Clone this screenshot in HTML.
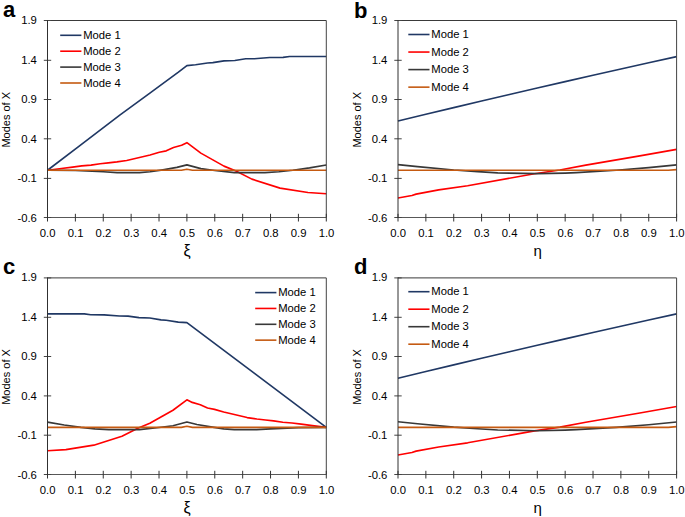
<!DOCTYPE html>
<html><head><meta charset="utf-8"><style>
html,body{margin:0;padding:0;background:#fff;}
svg{display:block;}
.t{font-family:"Liberation Sans", sans-serif;font-size:11px;fill:#000;}
.tk{font-family:"Liberation Sans", sans-serif;font-size:11.3px;fill:#000;}
.lg{font-family:"Liberation Sans", sans-serif;font-size:11.25px;fill:#000;}
.xl{font-family:"Liberation Sans", sans-serif;fill:#000;}
.lt{font-family:"Liberation Sans", sans-serif;font-size:22px;font-weight:bold;fill:#000;}
</style></head><body>
<svg width="685" height="517" viewBox="0 0 685 517">
<rect width="685" height="517" fill="#fff"/>
<polyline points="47.50,170.22 79.84,145.63 120.10,114.82 149.54,93.39 178.40,72.19 186.90,65.57 195.54,64.79 207.53,62.97 212.83,62.66 223.98,60.85 234.85,60.45 245.73,58.80 254.37,58.72 269.70,57.54 283.09,57.38 289.50,56.51 326.30,56.51" fill="none" stroke="#203864" stroke-width="1.65" stroke-linejoin="round"/>
<polyline points="47.50,170.22 61.44,168.49 72.59,167.07 81.79,165.89 90.99,165.10 100.19,163.76 108.28,162.89 116.92,161.87 126.68,160.45 138.39,157.69 150.10,154.93 159.30,152.25 166.27,150.84 173.52,147.53 181.60,145.24 186.90,142.64 200.84,153.12 223.98,166.12 235.97,171.09 251.86,179.12 280.02,188.11 307.90,192.52 326.30,193.70" fill="none" stroke="#ff0000" stroke-width="1.65" stroke-linejoin="round"/>
<polyline points="47.50,170.22 75.38,170.54 103.26,171.80 117.20,172.58 139.50,172.58 150.10,171.80 162.92,169.83 176.86,167.38 186.90,164.86 200.84,168.64 214.78,170.46 234.30,172.58 264.96,172.58 278.90,171.80 292.84,170.22 309.57,167.86 326.30,165.02" fill="none" stroke="#383838" stroke-width="1.65" stroke-linejoin="round"/>
<polyline points="47.50,170.22 181.32,170.22 186.90,169.20 192.48,170.22 326.30,170.22" fill="none" stroke="#c55a11" stroke-width="1.65" stroke-linejoin="round"/>
<path d="M47.5,20.5H326.3" fill="none" stroke="#3a3a3a" stroke-width="1"/>
<path d="M326.3,20.5V217.5" fill="none" stroke="#444" stroke-width="1"/>
<path d="M47.5,217.5H326.3" fill="none" stroke="#585858" stroke-width="1"/>
<path d="M43.8,20.50H51.2" stroke="#444" stroke-width="1"/>
<text x="36.9" y="24.35" text-anchor="end" class="tk">1.9</text>
<path d="M43.8,60.30H51.2" stroke="#444" stroke-width="1"/>
<text x="36.9" y="63.86" text-anchor="end" class="tk">1.4</text>
<path d="M43.8,99.50H51.2" stroke="#444" stroke-width="1"/>
<text x="36.9" y="103.37" text-anchor="end" class="tk">0.9</text>
<path d="M43.8,138.80H51.2" stroke="#444" stroke-width="1"/>
<text x="36.9" y="142.88" text-anchor="end" class="tk">0.4</text>
<path d="M43.8,178.40H51.2" stroke="#444" stroke-width="1"/>
<text x="36.9" y="182.39" text-anchor="end" class="tk">-0.1</text>
<path d="M43.8,217.50H51.2" stroke="#444" stroke-width="1"/>
<text x="36.9" y="221.90" text-anchor="end" class="tk">-0.6</text>
<path d="M47.50,213.8V221.5" stroke="#333" stroke-width="1"/>
<text x="47.70" y="237.0" text-anchor="middle" class="tk">0.0</text>
<path d="M75.38,213.8V221.5" stroke="#333" stroke-width="1"/>
<text x="75.58" y="237.0" text-anchor="middle" class="tk">0.1</text>
<path d="M103.26,213.8V221.5" stroke="#333" stroke-width="1"/>
<text x="103.46" y="237.0" text-anchor="middle" class="tk">0.2</text>
<path d="M131.14,213.8V221.5" stroke="#333" stroke-width="1"/>
<text x="131.34" y="237.0" text-anchor="middle" class="tk">0.3</text>
<path d="M159.02,213.8V221.5" stroke="#333" stroke-width="1"/>
<text x="159.22" y="237.0" text-anchor="middle" class="tk">0.4</text>
<path d="M186.90,213.8V221.5" stroke="#333" stroke-width="1"/>
<text x="187.10" y="237.0" text-anchor="middle" class="tk">0.5</text>
<path d="M214.78,213.8V221.5" stroke="#333" stroke-width="1"/>
<text x="214.98" y="237.0" text-anchor="middle" class="tk">0.6</text>
<path d="M242.66,213.8V221.5" stroke="#333" stroke-width="1"/>
<text x="242.86" y="237.0" text-anchor="middle" class="tk">0.7</text>
<path d="M270.54,213.8V221.5" stroke="#333" stroke-width="1"/>
<text x="270.74" y="237.0" text-anchor="middle" class="tk">0.8</text>
<path d="M298.42,213.8V221.5" stroke="#333" stroke-width="1"/>
<text x="298.62" y="237.0" text-anchor="middle" class="tk">0.9</text>
<path d="M326.30,213.8V221.5" stroke="#333" stroke-width="1"/>
<text x="326.50" y="237.0" text-anchor="middle" class="tk">1.0</text>
<path d="M47.5,20.0V218.0" fill="none" stroke="#303030" stroke-width="1"/>
<text transform="translate(10.3,119.80) rotate(-90)" text-anchor="middle" class="t">Modes of X</text>
<text x="187.20" y="255.8" text-anchor="middle" class="xl" style="font-size:16px">ξ</text>
<text x="3" y="17.2" class="lt">a</text>
<path d="M60.2,35.30H81.4" stroke="#203864" stroke-width="1.6"/>
<text x="83.2" y="38.90" class="lg">Mode 1</text>
<path d="M60.2,51.20H81.4" stroke="#ff0000" stroke-width="1.6"/>
<text x="83.2" y="54.80" class="lg">Mode 2</text>
<path d="M60.2,67.10H81.4" stroke="#383838" stroke-width="1.6"/>
<text x="83.2" y="70.70" class="lg">Mode 3</text>
<path d="M60.2,83.00H81.4" stroke="#c55a11" stroke-width="1.6"/>
<text x="83.2" y="86.60" class="lg">Mode 4</text>
<polyline points="398.00,121.05 425.86,114.31 453.72,107.63 481.58,101.02 509.44,94.47 537.30,87.99 565.16,81.58 593.02,75.23 620.88,68.95 648.74,62.74 676.60,56.59" fill="none" stroke="#203864" stroke-width="1.65" stroke-linejoin="round"/>
<polyline points="398.00,197.96 411.93,195.44 416.11,194.10 438.68,189.92 467.65,185.74 534.51,173.77 559.87,169.98 585.78,165.18 639.82,155.88 676.60,149.42" fill="none" stroke="#ff0000" stroke-width="1.65" stroke-linejoin="round"/>
<polyline points="398.00,164.63 417.50,166.60 453.72,169.98 477.68,171.64 497.74,172.90 537.30,173.69 565.16,173.06 576.30,172.58 616.14,170.22 648.74,167.62 676.60,164.86" fill="none" stroke="#383838" stroke-width="1.65" stroke-linejoin="round"/>
<polyline points="398.00,170.22 668.24,170.22 676.60,169.59" fill="none" stroke="#c55a11" stroke-width="1.65" stroke-linejoin="round"/>
<path d="M398.0,20.5H676.6" fill="none" stroke="#3a3a3a" stroke-width="1"/>
<path d="M676.6,20.5V217.5" fill="none" stroke="#444" stroke-width="1"/>
<path d="M398.0,217.5H676.6" fill="none" stroke="#585858" stroke-width="1"/>
<path d="M394.3,20.50H401.7" stroke="#444" stroke-width="1"/>
<text x="387.4" y="24.35" text-anchor="end" class="tk">1.9</text>
<path d="M394.3,60.30H401.7" stroke="#444" stroke-width="1"/>
<text x="387.4" y="63.86" text-anchor="end" class="tk">1.4</text>
<path d="M394.3,99.50H401.7" stroke="#444" stroke-width="1"/>
<text x="387.4" y="103.37" text-anchor="end" class="tk">0.9</text>
<path d="M394.3,138.80H401.7" stroke="#444" stroke-width="1"/>
<text x="387.4" y="142.88" text-anchor="end" class="tk">0.4</text>
<path d="M394.3,178.40H401.7" stroke="#444" stroke-width="1"/>
<text x="387.4" y="182.39" text-anchor="end" class="tk">-0.1</text>
<path d="M394.3,217.50H401.7" stroke="#444" stroke-width="1"/>
<text x="387.4" y="221.90" text-anchor="end" class="tk">-0.6</text>
<path d="M398.00,213.8V221.5" stroke="#333" stroke-width="1"/>
<text x="398.20" y="237.0" text-anchor="middle" class="tk">0.0</text>
<path d="M425.86,213.8V221.5" stroke="#333" stroke-width="1"/>
<text x="426.06" y="237.0" text-anchor="middle" class="tk">0.1</text>
<path d="M453.72,213.8V221.5" stroke="#333" stroke-width="1"/>
<text x="453.92" y="237.0" text-anchor="middle" class="tk">0.2</text>
<path d="M481.58,213.8V221.5" stroke="#333" stroke-width="1"/>
<text x="481.78" y="237.0" text-anchor="middle" class="tk">0.3</text>
<path d="M509.44,213.8V221.5" stroke="#333" stroke-width="1"/>
<text x="509.64" y="237.0" text-anchor="middle" class="tk">0.4</text>
<path d="M537.30,213.8V221.5" stroke="#333" stroke-width="1"/>
<text x="537.50" y="237.0" text-anchor="middle" class="tk">0.5</text>
<path d="M565.16,213.8V221.5" stroke="#333" stroke-width="1"/>
<text x="565.36" y="237.0" text-anchor="middle" class="tk">0.6</text>
<path d="M593.02,213.8V221.5" stroke="#333" stroke-width="1"/>
<text x="593.22" y="237.0" text-anchor="middle" class="tk">0.7</text>
<path d="M620.88,213.8V221.5" stroke="#333" stroke-width="1"/>
<text x="621.08" y="237.0" text-anchor="middle" class="tk">0.8</text>
<path d="M648.74,213.8V221.5" stroke="#333" stroke-width="1"/>
<text x="648.94" y="237.0" text-anchor="middle" class="tk">0.9</text>
<path d="M676.60,213.8V221.5" stroke="#333" stroke-width="1"/>
<text x="676.80" y="237.0" text-anchor="middle" class="tk">1.0</text>
<path d="M398.0,20.0V218.0" fill="none" stroke="#303030" stroke-width="1"/>
<text transform="translate(360.8,119.80) rotate(-90)" text-anchor="middle" class="t">Modes of X</text>
<text x="537.60" y="255.8" text-anchor="middle" class="xl" style="font-size:15px">η</text>
<text x="354" y="17.6" class="lt">b</text>
<path d="M408.3,34.50H429.5" stroke="#203864" stroke-width="1.6"/>
<text x="431.3" y="38.10" class="lg">Mode 1</text>
<path d="M408.3,52.05H429.5" stroke="#ff0000" stroke-width="1.6"/>
<text x="431.3" y="55.65" class="lg">Mode 2</text>
<path d="M408.3,69.60H429.5" stroke="#383838" stroke-width="1.6"/>
<text x="431.3" y="73.20" class="lg">Mode 3</text>
<path d="M408.3,87.15H429.5" stroke="#c55a11" stroke-width="1.6"/>
<text x="431.3" y="90.75" class="lg">Mode 4</text>
<polyline points="47.50,313.84 84.30,313.84 90.71,314.70 104.10,314.86 119.43,316.04 128.07,316.12 138.95,317.61 149.82,318.01 160.97,319.82 166.27,320.29 178.26,322.10 186.90,322.65 326.30,427.32" fill="none" stroke="#203864" stroke-width="1.65" stroke-linejoin="round"/>
<polyline points="47.50,450.75 65.90,449.57 93.78,445.17 121.94,436.20 137.83,428.18 149.82,423.23 172.96,410.25 186.90,399.79 192.20,402.39 200.28,404.67 207.53,407.97 214.50,409.39 223.70,412.06 235.41,414.81 247.12,417.56 256.88,418.98 265.52,420.00 273.61,420.87 282.81,422.20 292.01,422.99 301.21,424.17 312.36,425.59 326.30,427.32" fill="none" stroke="#ff0000" stroke-width="1.65" stroke-linejoin="round"/>
<polyline points="47.50,422.13 64.23,424.96 80.96,427.32 94.90,428.89 108.84,429.68 139.50,429.68 159.02,427.55 172.96,425.74 186.90,421.97 196.94,424.48 210.88,426.92 223.70,428.89 234.30,429.68 256.60,429.68 270.54,428.89 298.42,427.63 326.30,427.32" fill="none" stroke="#383838" stroke-width="1.65" stroke-linejoin="round"/>
<polyline points="47.50,427.32 181.32,427.32 186.90,426.29 192.48,427.32 326.30,427.32" fill="none" stroke="#c55a11" stroke-width="1.65" stroke-linejoin="round"/>
<path d="M47.5,277.9H326.3" fill="none" stroke="#3a3a3a" stroke-width="1"/>
<path d="M326.3,277.9V474.5" fill="none" stroke="#444" stroke-width="1"/>
<path d="M47.5,474.5H326.3" fill="none" stroke="#585858" stroke-width="1"/>
<path d="M43.8,277.90H51.2" stroke="#444" stroke-width="1"/>
<text x="36.9" y="281.15" text-anchor="end" class="tk">1.9</text>
<path d="M43.8,317.30H51.2" stroke="#444" stroke-width="1"/>
<text x="36.9" y="320.66" text-anchor="end" class="tk">1.4</text>
<path d="M43.8,356.50H51.2" stroke="#444" stroke-width="1"/>
<text x="36.9" y="360.17" text-anchor="end" class="tk">0.9</text>
<path d="M43.8,395.90H51.2" stroke="#444" stroke-width="1"/>
<text x="36.9" y="399.68" text-anchor="end" class="tk">0.4</text>
<path d="M43.8,435.20H51.2" stroke="#444" stroke-width="1"/>
<text x="36.9" y="439.19" text-anchor="end" class="tk">-0.1</text>
<path d="M43.8,474.50H51.2" stroke="#444" stroke-width="1"/>
<text x="36.9" y="478.70" text-anchor="end" class="tk">-0.6</text>
<path d="M47.50,470.8V478.5" stroke="#333" stroke-width="1"/>
<text x="47.70" y="494.0" text-anchor="middle" class="tk">0.0</text>
<path d="M75.38,470.8V478.5" stroke="#333" stroke-width="1"/>
<text x="75.58" y="494.0" text-anchor="middle" class="tk">0.1</text>
<path d="M103.26,470.8V478.5" stroke="#333" stroke-width="1"/>
<text x="103.46" y="494.0" text-anchor="middle" class="tk">0.2</text>
<path d="M131.14,470.8V478.5" stroke="#333" stroke-width="1"/>
<text x="131.34" y="494.0" text-anchor="middle" class="tk">0.3</text>
<path d="M159.02,470.8V478.5" stroke="#333" stroke-width="1"/>
<text x="159.22" y="494.0" text-anchor="middle" class="tk">0.4</text>
<path d="M186.90,470.8V478.5" stroke="#333" stroke-width="1"/>
<text x="187.10" y="494.0" text-anchor="middle" class="tk">0.5</text>
<path d="M214.78,470.8V478.5" stroke="#333" stroke-width="1"/>
<text x="214.98" y="494.0" text-anchor="middle" class="tk">0.6</text>
<path d="M242.66,470.8V478.5" stroke="#333" stroke-width="1"/>
<text x="242.86" y="494.0" text-anchor="middle" class="tk">0.7</text>
<path d="M270.54,470.8V478.5" stroke="#333" stroke-width="1"/>
<text x="270.74" y="494.0" text-anchor="middle" class="tk">0.8</text>
<path d="M298.42,470.8V478.5" stroke="#333" stroke-width="1"/>
<text x="298.62" y="494.0" text-anchor="middle" class="tk">0.9</text>
<path d="M326.30,470.8V478.5" stroke="#333" stroke-width="1"/>
<text x="326.50" y="494.0" text-anchor="middle" class="tk">1.0</text>
<path d="M47.5,277.4V475.0" fill="none" stroke="#303030" stroke-width="1"/>
<text transform="translate(10.3,377.00) rotate(-90)" text-anchor="middle" class="t">Modes of X</text>
<text x="187.20" y="512.8" text-anchor="middle" class="xl" style="font-size:16px">ξ</text>
<text x="3" y="274.2" class="lt">c</text>
<path d="M255.2,292.60H276.4" stroke="#203864" stroke-width="1.6"/>
<text x="278.2" y="296.20" class="lg">Mode 1</text>
<path d="M255.2,308.45H276.4" stroke="#ff0000" stroke-width="1.6"/>
<text x="278.2" y="312.05" class="lg">Mode 2</text>
<path d="M255.2,324.30H276.4" stroke="#383838" stroke-width="1.6"/>
<text x="278.2" y="327.90" class="lg">Mode 3</text>
<path d="M255.2,340.15H276.4" stroke="#c55a11" stroke-width="1.6"/>
<text x="278.2" y="343.75" class="lg">Mode 4</text>
<polyline points="398.00,378.24 425.86,371.51 453.72,364.85 481.58,358.25 509.44,351.72 537.30,345.26 565.16,338.86 593.02,332.52 620.88,326.25 648.74,320.05 676.60,313.92" fill="none" stroke="#203864" stroke-width="1.65" stroke-linejoin="round"/>
<polyline points="398.00,455.00 411.93,452.48 416.11,451.14 438.68,446.98 467.65,442.81 534.51,430.85 559.87,427.08 585.78,422.28 639.82,413.00 676.60,406.56" fill="none" stroke="#ff0000" stroke-width="1.65" stroke-linejoin="round"/>
<polyline points="398.00,421.73 417.50,423.70 453.72,427.08 477.68,428.73 497.74,429.99 537.30,430.78 565.16,430.15 576.30,429.68 616.14,427.32 648.74,424.72 676.60,421.97" fill="none" stroke="#383838" stroke-width="1.65" stroke-linejoin="round"/>
<polyline points="398.00,427.32 668.24,427.32 676.60,426.69" fill="none" stroke="#c55a11" stroke-width="1.65" stroke-linejoin="round"/>
<path d="M398.0,277.9H676.6" fill="none" stroke="#3a3a3a" stroke-width="1"/>
<path d="M676.6,277.9V474.5" fill="none" stroke="#444" stroke-width="1"/>
<path d="M398.0,474.5H676.6" fill="none" stroke="#585858" stroke-width="1"/>
<path d="M394.3,277.90H401.7" stroke="#444" stroke-width="1"/>
<text x="387.4" y="281.15" text-anchor="end" class="tk">1.9</text>
<path d="M394.3,317.30H401.7" stroke="#444" stroke-width="1"/>
<text x="387.4" y="320.66" text-anchor="end" class="tk">1.4</text>
<path d="M394.3,356.50H401.7" stroke="#444" stroke-width="1"/>
<text x="387.4" y="360.17" text-anchor="end" class="tk">0.9</text>
<path d="M394.3,395.90H401.7" stroke="#444" stroke-width="1"/>
<text x="387.4" y="399.68" text-anchor="end" class="tk">0.4</text>
<path d="M394.3,435.20H401.7" stroke="#444" stroke-width="1"/>
<text x="387.4" y="439.19" text-anchor="end" class="tk">-0.1</text>
<path d="M394.3,474.50H401.7" stroke="#444" stroke-width="1"/>
<text x="387.4" y="478.70" text-anchor="end" class="tk">-0.6</text>
<path d="M398.00,470.8V478.5" stroke="#333" stroke-width="1"/>
<text x="398.20" y="494.0" text-anchor="middle" class="tk">0.0</text>
<path d="M425.86,470.8V478.5" stroke="#333" stroke-width="1"/>
<text x="426.06" y="494.0" text-anchor="middle" class="tk">0.1</text>
<path d="M453.72,470.8V478.5" stroke="#333" stroke-width="1"/>
<text x="453.92" y="494.0" text-anchor="middle" class="tk">0.2</text>
<path d="M481.58,470.8V478.5" stroke="#333" stroke-width="1"/>
<text x="481.78" y="494.0" text-anchor="middle" class="tk">0.3</text>
<path d="M509.44,470.8V478.5" stroke="#333" stroke-width="1"/>
<text x="509.64" y="494.0" text-anchor="middle" class="tk">0.4</text>
<path d="M537.30,470.8V478.5" stroke="#333" stroke-width="1"/>
<text x="537.50" y="494.0" text-anchor="middle" class="tk">0.5</text>
<path d="M565.16,470.8V478.5" stroke="#333" stroke-width="1"/>
<text x="565.36" y="494.0" text-anchor="middle" class="tk">0.6</text>
<path d="M593.02,470.8V478.5" stroke="#333" stroke-width="1"/>
<text x="593.22" y="494.0" text-anchor="middle" class="tk">0.7</text>
<path d="M620.88,470.8V478.5" stroke="#333" stroke-width="1"/>
<text x="621.08" y="494.0" text-anchor="middle" class="tk">0.8</text>
<path d="M648.74,470.8V478.5" stroke="#333" stroke-width="1"/>
<text x="648.94" y="494.0" text-anchor="middle" class="tk">0.9</text>
<path d="M676.60,470.8V478.5" stroke="#333" stroke-width="1"/>
<text x="676.80" y="494.0" text-anchor="middle" class="tk">1.0</text>
<path d="M398.0,277.4V475.0" fill="none" stroke="#303030" stroke-width="1"/>
<text transform="translate(360.8,377.00) rotate(-90)" text-anchor="middle" class="t">Modes of X</text>
<text x="537.60" y="512.8" text-anchor="middle" class="xl" style="font-size:15px">η</text>
<text x="354" y="274.2" class="lt">d</text>
<path d="M408.3,291.70H429.5" stroke="#203864" stroke-width="1.6"/>
<text x="431.3" y="295.30" class="lg">Mode 1</text>
<path d="M408.3,309.20H429.5" stroke="#ff0000" stroke-width="1.6"/>
<text x="431.3" y="312.80" class="lg">Mode 2</text>
<path d="M408.3,326.70H429.5" stroke="#383838" stroke-width="1.6"/>
<text x="431.3" y="330.30" class="lg">Mode 3</text>
<path d="M408.3,344.20H429.5" stroke="#c55a11" stroke-width="1.6"/>
<text x="431.3" y="347.80" class="lg">Mode 4</text>
</svg></body></html>
